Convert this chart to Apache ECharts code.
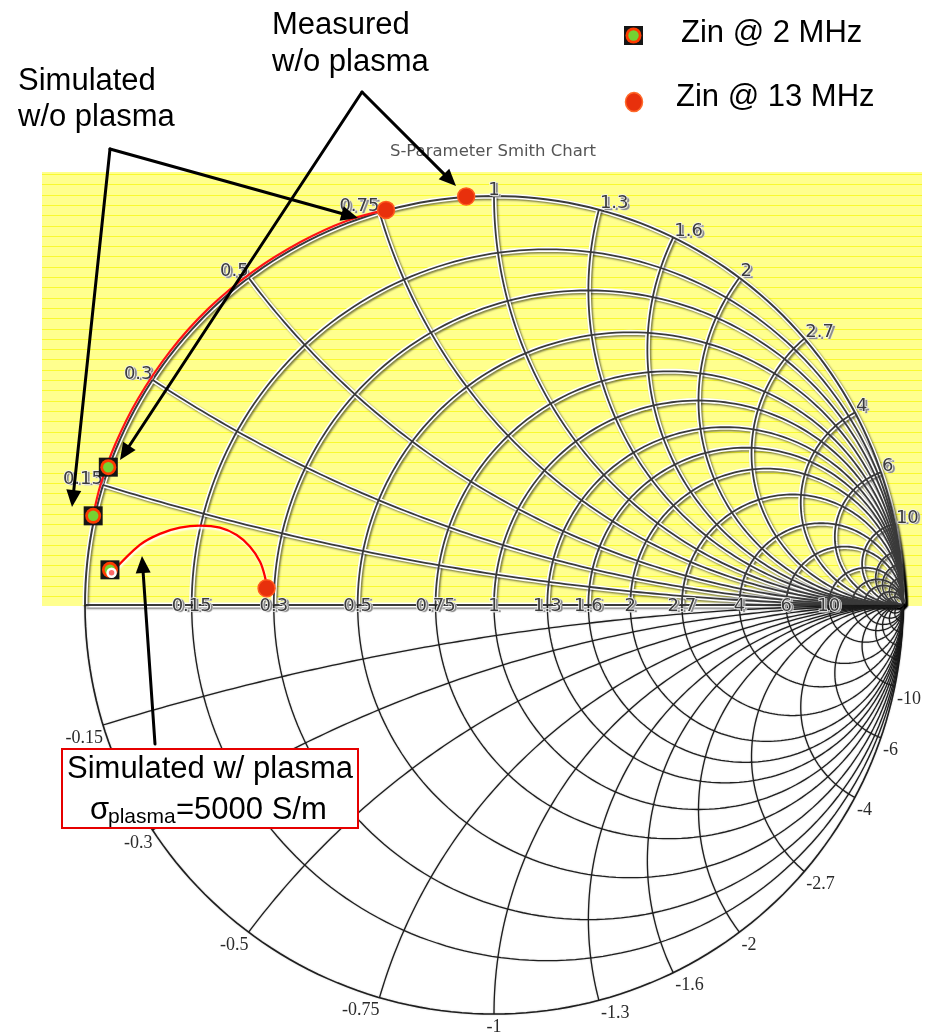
<!DOCTYPE html>
<html>
<head>
<meta charset="utf-8">
<script src="https://cdn.jsdelivr.net/npm/echarts@6/dist/echarts.min.js"></script>
<style>
  html, body { margin: 0; padding: 0; background: #ffffff; }
  #chart { width: 934px; height: 1034px; }
</style>
</head>
<body>
<div id="chart"></div>
<script>
// Smith grid: normalised resistance circles and reactance arcs
const resistanceTicks = [0.15, 0.3, 0.5, 0.75, 1, 1.3, 1.6, 2, 2.7, 4, 6, 10];
const resistanceLabels = ['0.15', '0.3', '0.5', '0.75', '1', '1.3', '1.6', '2', '2.7', '4', '6', '10'];
const reactanceTicks = [0.15, 0.3, 0.5, 0.75, 1, 1.3, 1.6, 2, 2.7, 4, 6, 10];
const reactanceLabelsUpper = ['0.15', '0.3', '0.5', '0.75', '1', '1.3', '1.6', '2', '2.7', '4', '6', '10'];
const reactanceLabelsLower = ['-0.15', '-0.3', '-0.5', '-0.75', '-1', '-1.3', '-1.6', '-2', '-2.7', '-4', '-6', '-10'];
const extraResistance = [15, 20, 30, 50];
const extraReactance = [15, 20, 30, 50];

// Reflection coefficient points [Re(Gamma), Im(Gamma)]
const simNoPlasmaCurve = [
  [-0.980, 0.218], [-0.962, 0.294], [-0.926, 0.393], [-0.871, 0.503], [-0.793, 0.619],
  [-0.699, 0.724], [-0.591, 0.814], [-0.472, 0.888], [-0.361, 0.939], [-0.264, 0.966]
];
const simPlasmaCurve = [
  [-0.935, 0.079], [-0.866, 0.147], [-0.817, 0.174], [-0.768, 0.189], [-0.719, 0.194],
  [-0.670, 0.189], [-0.629, 0.171], [-0.597, 0.143], [-0.572, 0.106], [-0.560, 0.069], [-0.556, 0.041]
];
// Zin @ 2 MHz: simulated w/o plasma, measured w/o plasma, simulated w/ plasma
const zin2MHz = [[-0.980, 0.218], [-0.943, 0.337], [-0.939, 0.086]];
// Zin @ 13 MHz: simulated w/o plasma, measured w/o plasma, simulated w/ plasma
const zin13MHz = [[-0.264, 0.966], [-0.068, 0.999], [-0.556, 0.041]];

const chart = echarts.init(document.getElementById('chart'), null, { renderer: 'canvas' });

// grid element list
const gridItems = [{ kind: 'axis' }, { kind: 'r', v: 0, outer: true }];
resistanceTicks.forEach((v, i) => gridItems.push({ kind: 'r', v, label: resistanceLabels[i] }));
extraResistance.forEach(v => gridItems.push({ kind: 'r', v, dense: true }));
reactanceTicks.forEach((v, i) => gridItems.push({ kind: 'x', v, up: reactanceLabelsUpper[i], down: reactanceLabelsLower[i] }));
extraReactance.forEach(v => gridItems.push({ kind: 'x', v, dense: true }));

// upper-half points of a grid element in Gamma coordinates
function halfArc(it) {
  const N = 120, pts = [];
  if (it.kind === 'axis') return [[-1, 0], [1, 0]];
  if (it.kind === 'r') {
    const c = it.v / (it.v + 1), rho = 1 / (it.v + 1);
    for (let k = 0; k <= N; k++) {
      const t = Math.PI * k / N;
      pts.push([c + rho * Math.cos(t), rho * Math.sin(t)]);
    }
  } else {
    const x = it.v, rho = 1 / x;
    let a0 = Math.atan2((x * x - 1) / (x * (x * x + 1)), -2 / (x * x + 1));
    if (a0 > 0) a0 -= 2 * Math.PI;
    const a1 = -Math.PI / 2;
    for (let k = 0; k <= N; k++) {
      const t = a0 + (a1 - a0) * k / N;
      pts.push([1 + rho * Math.cos(t), 1 / x + rho * Math.sin(t)]);
    }
  }
  return pts;
}
function toPixels(pts, sign, api) {
  return pts.map(p => api.coord([p[0], sign * p[1]]));
}

const embossFont = '18px "DejaVu Sans"';
function embossText(text, x, y, align, vAlign) {
  return {
    type: 'group',
    children: [
      { type: 'text', x: x + 2.5, y: y + 1.5, z2: 100,
        style: { text, font: embossFont, fill: '#8c8c8c', stroke: '#d8d8d8', lineWidth: 1,
                 align, verticalAlign: vAlign, textAlign: align, textVerticalAlign: vAlign } },
      { type: 'text', x, y, z2: 101,
        style: { text, font: embossFont, fill: '#3c3c3c', stroke: '#f4f4f4', lineWidth: 1.5,
                 align, verticalAlign: vAlign, textAlign: align, textVerticalAlign: vAlign } }
    ]
  };
}
function plainText(text, x, y, align, vAlign) {
  return { type: 'text', x, y, z2: 100,
    style: { text, font: '18px "Liberation Serif"', fill: '#2a2a2a', align, verticalAlign: vAlign,
             textAlign: align, textVerticalAlign: vAlign } };
}

function renderHalo(params, api) {
  const it = gridItems[params.dataIndex];
  return {
    type: 'polyline',
    shape: { points: toPixels(halfArc(it), 1, api) },
    style: { stroke: '#ffffff', lineWidth: it.dense ? 3 : 5, fill: null,
             shadowColor: 'rgba(0,0,0,0.5)', shadowBlur: 2, shadowOffsetX: 1.5, shadowOffsetY: 1.5 }
  };
}

function renderCore(params, api) {
  const it = gridItems[params.dataIndex];
  const half = halfArc(it);
  const children = [{
    type: 'polyline',
    shape: { points: toPixels(half, 1, api) },
    style: { stroke: '#3a3a3a', lineWidth: it.outer ? 2 : 1.8, fill: null }
  }];
  if (it.kind !== 'axis') {
    children.push({
      type: 'polyline',
      shape: { points: toPixels(half, -1, api) },
      style: { stroke: '#1e1e1e', lineWidth: it.outer ? 1.6 : 1.3, fill: null,
               shadowColor: 'rgba(0,0,0,0.3)', shadowBlur: 1.5 }
    });
  }
  if (it.kind === 'r' && it.label) {
    const p = api.coord([(it.v - 1) / (it.v + 1), 0]);
    children.push(embossText(it.label, p[0], p[1] + 1, 'center', 'middle'));
  }
  if (it.kind === 'x' && it.up) {
    const x = it.v;
    const ex = (x * x - 1) / (x * x + 1), ey = 2 * x / (x * x + 1);
    const align = ex < -0.02 ? 'right' : (ex > 0.02 ? 'left' : 'center');
    const pu = api.coord([ex, ey]);
    children.push(embossText(it.up, pu[0] + (align === 'left' ? 1 : 0), pu[1] + 3, align, 'bottom'));
    const pd = api.coord([ex, -ey]);
    children.push(plainText(it.down, pd[0] + (align === 'left' ? 2 : 0), pd[1] + 4, align, 'top'));
  }
  return { type: 'group', children };
}

// decorative background of the upper half
const graphics = [];
graphics.push({ type: 'rect', z: 0, shape: { x: 42, y: 172, width: 880, height: 434 },
  style: { fill: '#ffff8e' }, silent: true });
for (let y = 174; y < 604; y += 10.3) {
  graphics.push({ type: 'rect', z: 0, shape: { x: 42, y: Math.round(y), width: 880, height: 1 },
    style: { fill: '#f9f930' }, silent: true });
}

// title
graphics.push({ type: 'text', z: 100, x: 493, y: 152,
  style: { text: 'S-Parameter Smith Chart', font: '16.5px "DejaVu Sans"', fill: '#555555',
           align: 'center', verticalAlign: 'middle', textAlign: 'center', textVerticalAlign: 'middle',
           shadowColor: 'rgba(0,0,0,0.35)', shadowBlur: 2, shadowOffsetX: 1, shadowOffsetY: 1.5 } });

// annotation texts
const annFont = '31px "Liberation Sans"';
function annText(text, x, y, align, font) {
  return { type: 'text', z: 100, x, y,
    style: { text, font: font || annFont, fill: '#000000', align: align || 'left', verticalAlign: 'middle',
             textAlign: align || 'left', textVerticalAlign: 'middle' } };
}
graphics.push(annText('Measured', 272, 25));
graphics.push(annText('w/o plasma', 272, 62));
graphics.push(annText('Simulated', 18, 81));
graphics.push(annText('w/o plasma', 18, 117));

// legend
graphics.push({ type: 'rect', z: 100, shape: { x: 624, y: 26, width: 19, height: 19 }, style: { fill: '#151515' } });
graphics.push({ type: 'circle', z: 101, shape: { cx: 633.5, cy: 35.5, r: 8 }, style: { fill: '#ff3b00' } });
graphics.push({ type: 'circle', z: 102, shape: { cx: 633.5, cy: 35.5, r: 5.2 }, style: { fill: '#74d232' } });
graphics.push(annText('Zin @ 2 MHz', 681, 33));
graphics.push({ type: 'ellipse', z: 100, shape: { cx: 634, cy: 102, rx: 8.5, ry: 9.5 },
  style: { fill: '#e8300c', stroke: '#ff6a2a', lineWidth: 1.5 } });
graphics.push(annText('Zin @ 13 MHz', 676, 97));

// boxed annotation
graphics.push({ type: 'rect', z: 100, shape: { x: 62, y: 749, width: 296, height: 79 },
  style: { fill: '#ffffff', stroke: '#e60000', lineWidth: 2 } });
graphics.push(annText('Simulated w/ plasma', 210, 769, 'center'));
graphics.push(annText('\u03c3', 90, 810, 'left'));
graphics.push(annText('plasma', 108, 817, 'left', '21px "Liberation Sans"'));
graphics.push(annText('=5000 S/m', 176, 810, 'left'));

// arrows
function arrow(from, tip) {
  const dx = tip[0] - from[0], dy = tip[1] - from[1];
  const len = Math.sqrt(dx * dx + dy * dy);
  const ux = dx / len, uy = dy / len;
  const L = 17, W = 7.5;
  const bx = tip[0] - ux * L, by = tip[1] - uy * L;
  graphics.push({ type: 'line', z: 110, shape: { x1: from[0], y1: from[1], x2: bx + ux * 2, y2: by + uy * 2 },
    style: { stroke: '#000000', lineWidth: 3, lineCap: 'round' } });
  graphics.push({ type: 'polygon', z: 110,
    shape: { points: [tip, [bx - uy * W, by + ux * W], [bx + uy * W, by - ux * W]] },
    style: { fill: '#000000' } });
}
arrow([110, 149], [358, 218]);
arrow([110, 149], [72, 507]);
arrow([362, 92], [456, 186]);
arrow([362, 92], [120, 460]);
arrow([155, 744], [142, 556]);

const dummy = gridItems.map(() => [0, 0]);

const option = {
  animation: false,
  backgroundColor: '#ffffff',
  grid: { left: 85, top: 196, width: 818, height: 818, show: false },
  xAxis: { type: 'value', min: -1, max: 1, show: false },
  yAxis: { type: 'value', min: -1, max: 1, show: false },
  graphic: graphics,
  series: [
    { type: 'custom', name: 'grid halo', coordinateSystem: 'cartesian2d', z: 2, silent: true,
      renderItem: renderHalo, data: dummy },
    { type: 'custom', name: 'grid', coordinateSystem: 'cartesian2d', z: 3, silent: true,
      renderItem: renderCore, data: dummy },
    { type: 'line', name: 'Simulated w/o plasma', data: simNoPlasmaCurve, smooth: 0.35,
      symbol: 'none', z: 5, lineStyle: { color: '#ff1414', width: 2.2 } },
    { type: 'line', name: 'Simulated w/ plasma', data: simPlasmaCurve, smooth: 0.35,
      symbol: 'none', z: 5,
      lineStyle: { color: '#ff0000', width: 2.3, shadowColor: '#ffffff', shadowBlur: 2, shadowOffsetX: 1, shadowOffsetY: 2 } },
    { type: 'scatter', name: 'Zin @ 2 MHz', data: zin2MHz, symbol: 'rect', symbolSize: 19, z: 6,
      itemStyle: { color: '#151515', opacity: 1 } },
    { type: 'scatter', name: 'Zin @ 2 MHz ring', data: zin2MHz, symbol: 'circle', symbolSize: 16, z: 7,
      itemStyle: { color: '#ff3b00', opacity: 1 } },
    { type: 'scatter', name: 'Zin @ 2 MHz core', data: zin2MHz, symbol: 'circle', symbolSize: 10.5, z: 8,
      itemStyle: { color: '#74d232', opacity: 1 } },
    { type: 'scatter', name: 'plasma start', data: [simPlasmaCurve[0]], symbol: 'circle', symbolSize: 8, z: 9,
      itemStyle: { color: '#ff6a6a', borderColor: '#ffffff', borderWidth: 2.5, opacity: 1 } },
    { type: 'scatter', name: 'Zin @ 13 MHz', data: zin13MHz, symbol: 'circle', symbolSize: 17, z: 9,
      itemStyle: { color: '#e8300c', borderColor: '#ff5a1e', borderWidth: 1.5, opacity: 1 } }
  ]
};
chart.setOption(option);
</script>
</body>
</html>
